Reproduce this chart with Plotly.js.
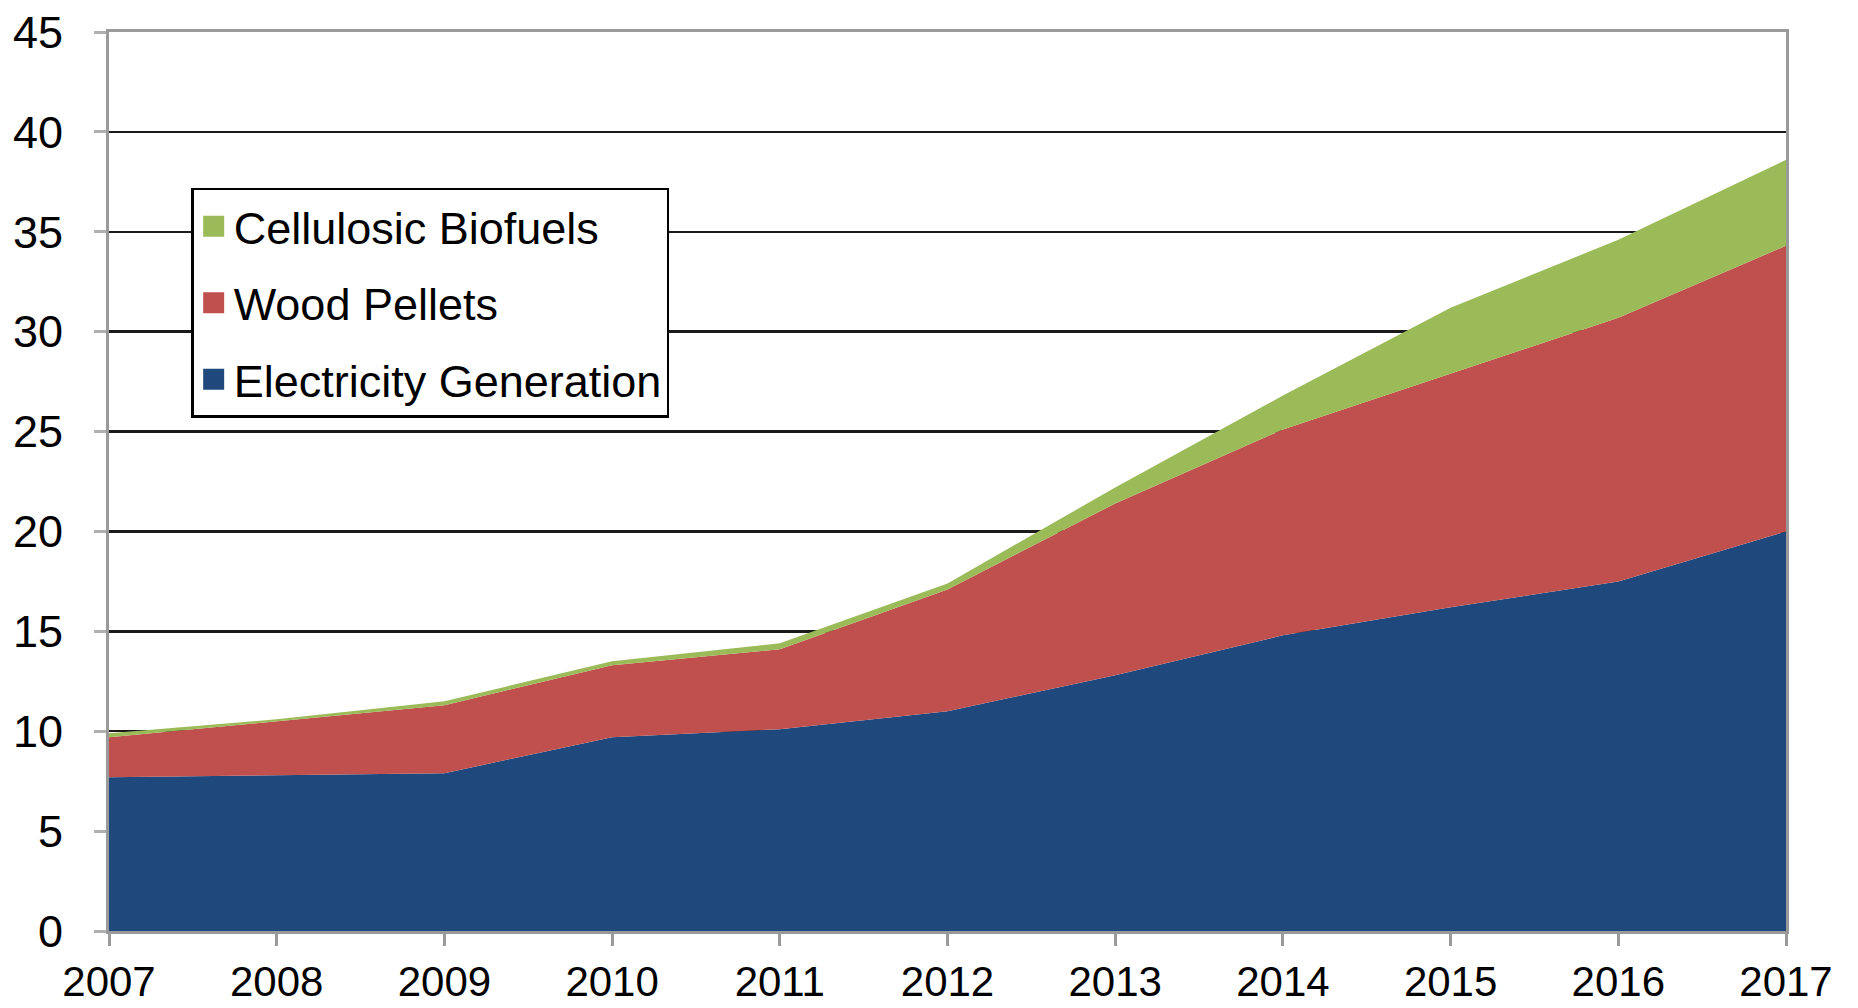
<!DOCTYPE html>
<html>
<head>
<meta charset="utf-8">
<script src="https://cdn.plot.ly/plotly-3.0.1.min.js"></script>
<style>
  html, body { margin: 0; padding: 0; background: #ffffff; }
  #chart { width: 1858px; height: 1008px; }
</style>
</head>
<body>
<div id="chart"></div>
<script>
// Data
const years = [2007, 2008, 2009, 2010, 2011, 2012, 2013, 2014, 2015, 2016, 2017];
const electricityGeneration = [7.7, 7.8, 7.9, 9.7, 10.1, 11.0, 12.8, 14.8, 16.2, 17.5, 20.0];
const woodPellets = [2.0, 2.7, 3.4, 3.6, 4.0, 6.1, 8.6, 10.3, 11.7, 13.2, 14.3];
const cellulosicBiofuels = [0.2, 0.1, 0.2, 0.2, 0.3, 0.3, 0.8, 1.7, 3.3, 3.9, 4.3];
const seriesNames = ["Electricity Generation", "Wood Pellets", "Cellulosic Biofuels"];
const legendOrder = ["Cellulosic Biofuels", "Wood Pellets", "Electricity Generation"];
const yTicks = [0, 5, 10, 15, 20, 25, 30, 35, 40, 45];

const colors = {
  "Electricity Generation": "#1F497D",
  "Wood Pellets": "#C0504D",
  "Cellulosic Biofuels": "#9BBB59"
};
const seriesValues = {
  "Electricity Generation": electricityGeneration,
  "Wood Pellets": woodPellets,
  "Cellulosic Biofuels": cellulosicBiofuels
};

const traces = [];
// Stacked areas (bottom to top)
seriesNames.forEach(name => {
  traces.push({
    type: "scatter",
    mode: "lines",
    x: years,
    y: seriesValues[name],
    stackgroup: "one",
    line: { width: 0, shape: "linear", color: colors[name] },
    fillcolor: colors[name],
    name: name,
    showlegend: false,
    hoverinfo: "x+y+name"
  });
});
// Legend entries (top to bottom as in reference)
legendOrder.forEach(name => {
  traces.push({
    type: "scatter",
    mode: "markers",
    x: [null],
    y: [null],
    name: name,
    legendgroup: name,
    marker: { symbol: "square", size: 16, color: colors[name], line: { width: 5, color: colors[name] } },
    showlegend: true
  });
});

const layout = {
  width: 1858,
  height: 1008,
  paper_bgcolor: "#ffffff",
  plot_bgcolor: "#ffffff",
  margin: { l: 109, r: 72, t: 32, b: 77, pad: 0 },
  font: { family: "Liberation Sans, Arial, sans-serif", color: "#000000" },
  showlegend: true,
  legend: {
    x: 0.049, y: 0.8265, xanchor: "left", yanchor: "top",
    bgcolor: "#ffffff",
    bordercolor: "#000000",
    borderwidth: 2.5,
    font: { size: 45, family: "Liberation Sans, Arial, sans-serif", color: "#000000" },
    traceorder: "grouped",
    tracegroupgap: 15,
    itemwidth: 30
  },
  xaxis: {
    range: [2007, 2017],
    tickmode: "array",
    tickvals: years,
    ticktext: years.map(String),
    showgrid: false,
    zeroline: false,
    showline: true,
    linecolor: "#9a9a9a",
    linewidth: 3,
    mirror: true,
    ticks: "outside",
    ticklen: 12,
    tickwidth: 3,
    tickcolor: "#9a9a9a",
    ticklabelstandoff: 0,
    tickfont: { size: 42, family: "Liberation Sans, Arial, sans-serif", color: "#000000" }
  },
  yaxis: {
    range: [0, 45],
    tickmode: "array",
    tickvals: yTicks,
    ticktext: yTicks.map(String),
    showgrid: true,
    gridcolor: "#1a1a1a",
    gridwidth: 2.5,
    zeroline: false,
    showline: true,
    linecolor: "#9a9a9a",
    linewidth: 3,
    mirror: true,
    ticks: "outside",
    ticklen: 12,
    tickwidth: 3,
    tickcolor: "#b0b0b0",
    ticklabelstandoff: 22,
    tickfont: { size: 45, family: "Liberation Sans, Arial, sans-serif", color: "#000000" }
  }
};

Plotly.newPlot("chart", traces, layout, { displayModeBar: false, staticPlot: true });
</script>
</body>
</html>
